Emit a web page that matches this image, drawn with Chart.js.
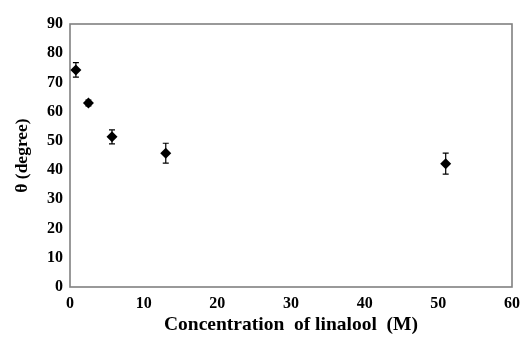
<!DOCTYPE html>
<html>
<head>
<meta charset="utf-8">
<script src="https://cdn.jsdelivr.net/npm/chart.js@4"></script>
<style>
html,body{margin:0;padding:0;background:#fff;}
#wrap{width:528px;height:337px;position:relative;}
</style>
</head>
<body>
<div id="wrap"><canvas id="c" width="528" height="337"></canvas></div>
<script>
const xValues = [0.8, 2.5, 5.7, 13.0, 51.0];
const yValues = [74.3, 63.0, 51.4, 45.8, 42.2];
const yErrors = [2.5, 1.0, 2.4, 3.4, 3.6];
const xTicks = [0, 10, 20, 30, 40, 50, 60];
const yTicks = [0, 10, 20, 30, 40, 50, 60, 70, 80, 90];
const xTitle = 'Concentration  of linalool  (M)';
const yTitle = 'θ (degree)';

const points = xValues.map((x, i) => ({x: x, y: yValues[i]}));

const errorBarPlugin = {
  id: 'errorBars',
  afterDatasetsDraw(chart) {
    const ctx = chart.ctx;
    const xs = chart.scales.x, ys = chart.scales.y;
    ctx.save();
    ctx.strokeStyle = '#000';
    ctx.lineWidth = 1.2;
    xValues.forEach((x, i) => {
      const px = xs.getPixelForValue(x);
      const top = ys.getPixelForValue(yValues[i] + yErrors[i]);
      const bot = ys.getPixelForValue(yValues[i] - yErrors[i]);
      ctx.beginPath();
      ctx.moveTo(px, top); ctx.lineTo(px, bot);
      ctx.moveTo(px - 3, top); ctx.lineTo(px + 3, top);
      ctx.moveTo(px - 3, bot); ctx.lineTo(px + 3, bot);
      ctx.stroke();
    });
    ctx.restore();
  }
};

const boxPlugin = {
  id: 'box',
  beforeDatasetsDraw(chart) {
    const a = chart.chartArea, ctx = chart.ctx;
    ctx.save();
    ctx.strokeStyle = '#808080';
    ctx.lineWidth = 1.6;
    ctx.strokeRect(a.left, a.top, a.right - a.left, a.bottom - a.top);
    ctx.restore();
  }
};

const tickFont = {family: '"Liberation Serif", "Times New Roman", serif', size: 16, weight: 'bold'};
const xTitleFont = {family: '"Liberation Serif", "Times New Roman", serif', size: 19.5, weight: 'bold'};
const yTitleFont = {family: '"Liberation Serif", "Times New Roman", serif', size: 17.5, weight: 'bold'};

new Chart(document.getElementById('c'), {
  type: 'scatter',
  data: {
    datasets: [{
      data: points,
      pointStyle: 'rectRot',
      pointRadius: 5.5,
      backgroundColor: '#000',
      borderColor: '#000',
      borderWidth: 0
    }]
  },
  options: {
    responsive: false,
    animation: false,
    devicePixelRatio: 1,
    layout: {padding: {top: 24, right: 16, left: 0, bottom: 0}},
    plugins: {legend: {display: false}, tooltip: {enabled: false}},
    scales: {
      x: {
        type: 'linear', min: 0, max: 60,
        afterBuildTicks: s => { s.ticks = xTicks.map(v => ({value: v})); },
        grid: {display: false, drawTicks: false},
        border: {display: false},
        ticks: {color: '#000', font: tickFont, padding: 7},
        title: {display: true, text: xTitle, color: '#000', font: xTitleFont, padding: {top: 0, bottom: 0}},
        afterFit: s => { s.height = 50; }
      },
      y: {
        type: 'linear', min: 0, max: 90,
        afterBuildTicks: s => { s.ticks = yTicks.map(v => ({value: v})); },
        grid: {display: false, drawTicks: false},
        border: {display: false},
        ticks: {color: '#000', font: tickFont, padding: 7},
        title: {display: true, text: yTitle, color: '#000', font: yTitleFont, padding: {top: 12, bottom: 4}},
        afterFit: s => { s.width = 70; }
      }
    }
  },
  plugins: [boxPlugin, errorBarPlugin]
});
</script>
</body>
</html>
